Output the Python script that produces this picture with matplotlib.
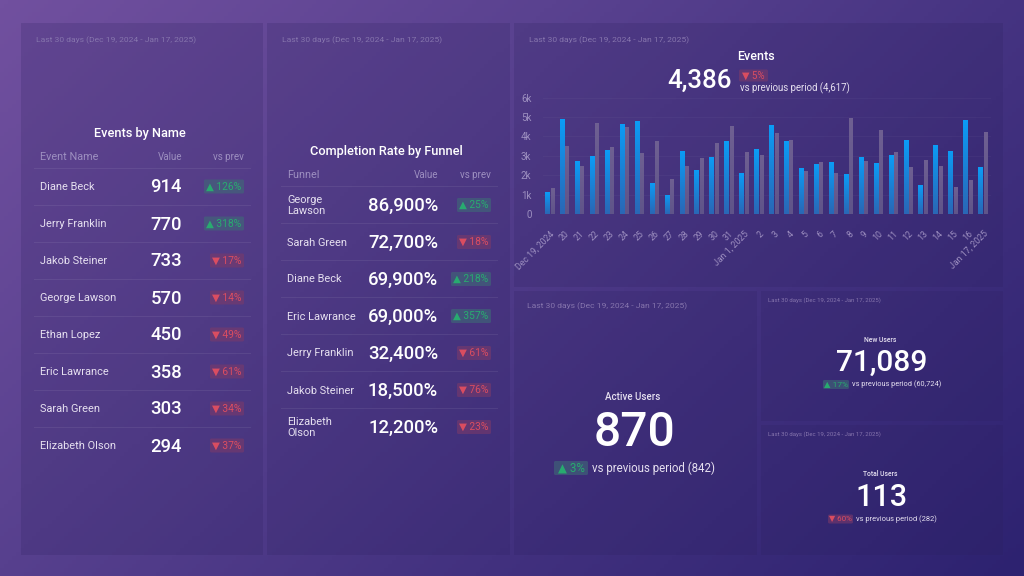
import numpy as np
import matplotlib
matplotlib.use('Agg')
import matplotlib.pyplot as plt
from matplotlib.colors import LinearSegmentedColormap
from matplotlib.patches import FancyBboxPatch, Rectangle

plt.rcParams['font.family'] = ['Roboto', 'DejaVu Sans']

W, H = 1024, 576
RANGE = 'Last 30 days (Dec 19, 2024 - Jan 17, 2025)'

# events by name table
event_names = ['Diane Beck', 'Jerry Franklin', 'Jakob Steiner', 'George Lawson',
               'Ethan Lopez', 'Eric Lawrance', 'Sarah Green', 'Elizabeth Olson']
event_values = ['914', '770', '733', '570', '450', '358', '303', '294']
event_change = [126, 318, -17, -14, -49, -61, -34, -37]

# completion rate table
funnel_names = ['George\nLawson', 'Sarah Green', 'Diane Beck', 'Eric Lawrance',
                'Jerry Franklin', 'Jakob Steiner', 'Elizabeth\nOlson']
funnel_values = ['86,900%', '72,700%', '69,900%', '69,000%', '32,400%', '18,500%', '12,200%']
funnel_change = [25, -18, 218, 357, -61, -76, -23]

# events bar chart, in thousands
day_labels = ['Dec 19, 2024', '20', '21', '22', '23', '24', '25', '26', '27', '28', '29', '30', '31',
              'Jan 1, 2025', '2', '3', '4', '5', '6', '7', '8', '9', '10', '11', '12', '13', '14',
              '15', '16', 'Jan 17, 2025']
events_now = [1.12, 4.90, 2.73, 2.99, 3.30, 4.66, 4.81, 1.60, 1.00, 3.26, 2.29, 2.96, 3.75, 2.11, 3.35,
              4.59, 3.75, 2.39, 2.58, 2.66, 2.04, 2.94, 2.63, 3.02, 3.80, 1.49, 3.57, 3.26, 4.85, 2.42]
events_prev = [1.32, 3.52, 2.47, 4.69, 3.45, 4.48, 3.13, 3.78, 1.82, 2.49, 2.90, 3.68, 4.52, 3.18, 3.06,
               4.16, 3.81, 2.23, 2.70, 2.13, 4.95, 2.71, 4.35, 3.21, 2.42, 2.80, 2.47, 1.37, 1.75, 4.23]
y_ticks = [0, 1, 2, 3, 4, 5, 6]
y_tick_labels = ['0', '1k', '2k', '3k', '4k', '5k', '6k']

WHITE = '#ffffff'
SOFT = '#e6e0f0'
FADED = '#9d8fc0'
DIM = '#8675ad'
GREEN = '#26b56f'
RED = '#e8505f'
GREEN_BG = '#3f6a77'
RED_BG = '#7a3a6a'

fig = plt.figure(figsize=(W / 100, H / 100), dpi=100)
bg = fig.add_axes([0, 0, 1, 1])
bg.set_xlim(0, W)
bg.set_ylim(H, 0)
bg.axis('off')

# diagonal page gradient
xx, yy = np.meshgrid(np.linspace(0, 1, 256), np.linspace(0, 1, 144))
bg_cmap = LinearSegmentedColormap.from_list('page', ['#71509f', '#5a4290', '#42317f', '#2d2270'])
bg.imshow((xx * 0.62 + yy * 0.38), cmap=bg_cmap, extent=[0, W, H, 0], aspect='auto', vmin=0, vmax=1, zorder=0)

panels = [(21, 23, 242, 532), (267, 23, 243, 532), (514, 23, 489, 264),
          (514, 291, 243, 264), (761, 291, 242, 130), (761, 425, 242, 130)]
for px, py, pw, ph in panels:
    bg.add_patch(Rectangle((px, py), pw, ph, fc='#2a1f5c', alpha=0.2, ec='none', zorder=1))


def label(x, y, s, size, color=WHITE, ha='left', weight='normal', va='center', **kw):
    bg.text(x, y, s, fontsize=size, color=color, ha=ha, va=va, fontweight=weight, zorder=5, **kw)


def pill(x_right, y, change, width, height=14, size=7.4):
    up = change > 0
    x0 = x_right - width
    bg.add_patch(FancyBboxPatch((x0 + 1.5, y - height / 2 + 1.5), width - 3, height - 3,
                                boxstyle='round,pad=1.5', fc=GREEN_BG if up else RED_BG,
                                alpha=0.6, ec='none', zorder=3))
    txt = ('▲ ' if up else '▼ ') + f'{abs(change)}%'
    label(x0 + width / 2, y, txt, size, GREEN if up else RED, ha='center', alpha=0.9)


def table(title, title_x, title_y, header, head_y, names, values, changes, name_x, value_x, right_x, sep_x0, first_y):
    label(title_x, title_y, title, 9.2, WHITE, ha='center', weight='medium')
    label(name_x, head_y, header, 7.8, FADED)
    label(value_x, head_y, 'Value', 7, FADED, ha='right')
    label(right_x, head_y, 'vs prev', 7, FADED, ha='right')
    for i, (name, val, ch) in enumerate(zip(names, values, changes)):
        y = first_y + i * 37
        bg.plot([sep_x0, right_x + 6], [y - 18.5, y - 18.5], color='#ffffff', alpha=0.07, lw=0.8, zorder=2)
        # baseline alignment so descenders don't shift the row
        label(name_x, y + (9.5 if '\n' in name else 4), name, 7.9, SOFT, linespacing=1.15, va='baseline')
        label(value_x, y + 1.5, val, 13.3, WHITE, ha='right', weight='medium')
        pill(right_x, y + 0.5, ch, 40 if abs(ch) >= 100 else 34)


table('Events by Name', 140, 134, 'Event Name', 156.5, event_names, event_values, event_change,
      40, 182, 244, 34, 186)
table('Completion Rate by Funnel', 386, 152, 'Funnel', 175, funnel_names, funnel_values, funnel_change,
      287, 438, 491, 281, 204.5)

# date range captions
label(36, 40, RANGE, 6.1, DIM)
label(282.5, 40, RANGE, 6.1, DIM)
label(529, 40, RANGE, 6.1, DIM)
label(527, 306.5, RANGE, 6.1, DIM)
label(768.5, 300, RANGE, 4.3, DIM)
label(768.5, 434.5, RANGE, 4.3, DIM)

# events header
label(756, 56, 'Events', 9, WHITE, ha='center', weight='medium')
label(699, 81, '4,386', 18.6, WHITE, ha='center', weight='medium')
pill(768, 75.5, -5, 29, height=12, size=7)
label(740, 88, 'vs previous period (4,617)', 6.9, SOFT)

# active users
label(633, 397, 'Active Users', 7, SOFT, ha='center', weight='medium')
label(635, 433, '870', 34.6, WHITE, ha='center', weight='medium')
pill(588, 468, 3, 34, height=14, size=8.4)
label(592, 468, 'vs previous period (842)', 8.3, SOFT)

# new users
label(880, 339.5, 'New Users', 4.9, SOFT, ha='center', weight='medium')
label(881.5, 363, '71,089', 21.5, WHITE, ha='center', weight='medium')
pill(849, 384.5, 17, 26, height=9, size=6)
label(851.5, 384.5, 'vs previous period (60,724)', 5.3, SOFT)

# total users
label(880, 474, 'Total Users', 4.9, SOFT, ha='center', weight='medium')
label(881.5, 497, '113', 22, WHITE, ha='center', weight='medium')
pill(853, 519, -60, 25, height=9, size=5.8)
label(856, 519, 'vs previous period (282)', 5.4, SOFT)

# bar chart on its own axes, placed by pixels
ax_left, ax_right, ax_top, ax_bottom = 542.5, 990.5, 97.7, 214
ax = fig.add_axes([ax_left / W, 1 - ax_bottom / H, (ax_right - ax_left) / W, (ax_bottom - ax_top) / H])
ax.patch.set_alpha(0)
pos = np.arange(len(day_labels))
now_cmap = LinearSegmentedColormap.from_list('now', ['#2a67b5', '#0b9cf6'])
prev_cmap = LinearSegmentedColormap.from_list('prev', ['#5f5489', '#6f6092'])


def gradient_bars(offset, width, values, cmap):
    bars = ax.bar(pos + offset, values, width, color='none', zorder=2)
    grad = np.linspace(1, 0, 64).reshape(-1, 1)
    for bar in bars:
        x = bar.get_x()
        im = ax.imshow(grad, cmap=cmap, aspect='auto', zorder=2, vmin=0, vmax=1,
                       extent=[x, x + bar.get_width(), 0, bar.get_height()])
        im.set_clip_path(bar)


gradient_bars(-0.17, 0.31, events_now, now_cmap)
gradient_bars(0.17, 0.26, events_prev, prev_cmap)
ax.set_xlim(-0.5, len(day_labels) - 0.5)
ax.set_ylim(0, 6)

ax.set_yticks(y_ticks)
ax.set_yticklabels(y_tick_labels, fontsize=7, color=FADED)
ax.set_xticks(pos)
ax.set_xticklabels(day_labels, rotation=45, ha='right', rotation_mode='anchor', fontsize=6.3, color=FADED)
ax.tick_params(axis='both', length=0)
ax.tick_params(axis='y', pad=8)
ax.tick_params(axis='x', pad=11)
ax.grid(axis='y', color='#ffffff', alpha=0.03, lw=0.8, zorder=1)
ax.set_axisbelow(True)
for side in ax.spines.values():
    side.set_visible(False)

fig.savefig('out.png', dpi=100)
